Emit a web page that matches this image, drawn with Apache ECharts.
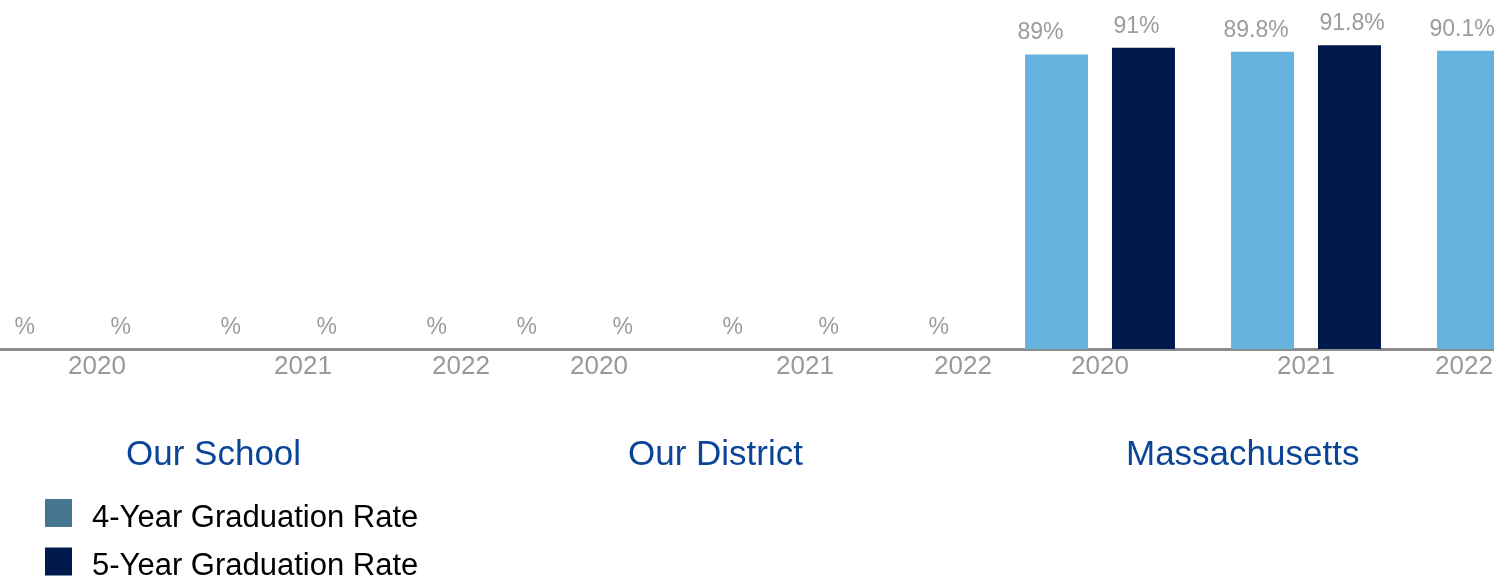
<!DOCTYPE html>
<html><head><meta charset="utf-8">
<script src="https://cdn.jsdelivr.net/npm/echarts@6/dist/echarts.min.js"></script>
<style>html,body{margin:0;padding:0;background:#fff}#c{width:1494px;height:580px}</style>
</head><body><div id="c"></div>
<script>
// ---- data ----
const years = ['2020', '2021', '2022'];
const panelTitles = ['Our School', 'Our District', 'Massachusetts'];
const seriesNames = ['4-Year Graduation Rate', '5-Year Graduation Rate'];
const school4 = [null, null, null];
const school5 = [null, null, null];
const district4 = [null, null, null];
const district5 = [null, null, null];
const state4 = [89, 89.8, 90.1];
const state5 = [91, 91.8, 91.7];
const panelData = [[school4, school5], [district4, district5], [state4, state5]];

// ---- style ----
const FONT = '"Liberation Sans", Arial, sans-serif';
const barColors = ['#66b2de', '#001a4d'];
const legendColors = ['#46758f', '#001a4d'];
const gridLefts = [-6, 496, 997];
const titleLefts = [126, 628, 1126];
const labelOffsets = [[-45, 0], [-36, 0]];

const chart = echarts.init(document.getElementById('c'));
const grids = [], xAxes = [], yAxes = [], series = [], titles = [];
panelTitles.forEach((t, i) => {
  grids.push({ left: gridLefts[i], width: 618, top: 18, bottom: 231, containLabel: false, outerBoundsMode: 'none' });
  xAxes.push({
    type: 'category', data: years, gridIndex: i,
    axisLine: { show: true, lineStyle: { color: '#8c8c8c', width: 3 } },
    axisTick: { show: false },
    axisLabel: {
      margin: 5, color: '#999', fontSize: 26, fontFamily: FONT,
      formatter: (v, idx) => idx === years.length - 1 ? '{s|' + v + '}' : v,
      rich: { s: { padding: [0, 96, 0, 0], color: '#999', fontSize: 26, fontFamily: FONT } }
    }
  });
  yAxes.push({ type: 'value', gridIndex: i, min: 0, max: 100, show: false });
  titles.push({
    text: t, left: titleLefts[i], top: 438, padding: 0,
    textStyle: { color: '#0b4598', fontSize: 35, fontWeight: 'normal', fontFamily: FONT }
  });
  panelData[i].forEach((arr, k) => {
    series.push({
      type: 'bar', name: seriesNames[k], xAxisIndex: i, yAxisIndex: i, z: 2 + i,
      barWidth: 63, barGap: '38%',
      itemStyle: { color: barColors[k] },
      data: arr.map(v => v == null ? 0 : v),
      label: {
        show: true, position: 'top', distance: 10, align: 'left', offset: labelOffsets[k],
        color: '#9c9c9c', fontSize: 23, fontFamily: FONT,
        backgroundColor: '#fff', padding: [0, 6],
        formatter: p => (arr[p.dataIndex] == null ? '' : arr[p.dataIndex]) + '%'
      },
      emphasis: { disabled: true },
      silent: true
    });
  });
});

chart.setOption({
  animation: false,
  title: titles,
  grid: grids,
  xAxis: xAxes,
  yAxis: yAxes,
  legend: {
    orient: 'vertical', left: 45, top: 499, height: 140, padding: 0,
    itemWidth: 27, itemHeight: 28, itemGap: 14, icon: 'rect',
    formatter: n => '{t|' + n + '}',
    textStyle: {
      color: '#000', fontSize: 31, fontFamily: FONT, padding: [0, 0, 0, 15],
      rich: { t: { color: '#000', fontSize: 31, fontFamily: FONT, lineHeight: 41, verticalAlign: 'bottom' } }
    },
    data: seriesNames.map((n, k) => ({ name: n, itemStyle: { color: legendColors[k] } }))
  },
  series: series
});
</script></body></html>
